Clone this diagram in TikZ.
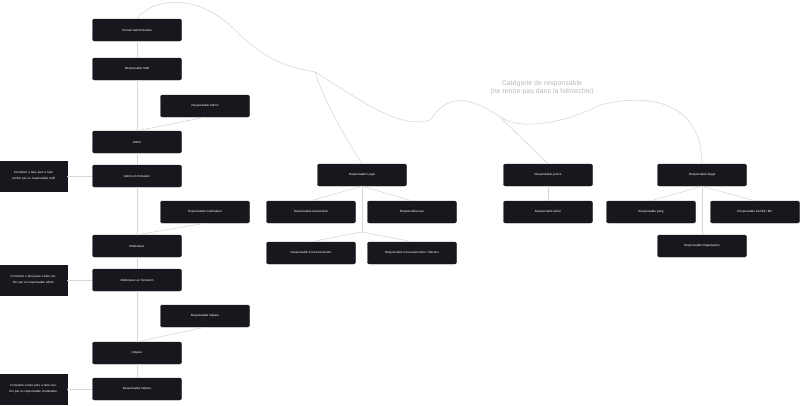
\documentclass[tikz,border=0pt]{standalone}
\usepackage{fontspec}
\setmainfont{Liberation Sans}
\begin{document}
\begin{tikzpicture}[x=1pt,y=-1pt,
  box/.style={fill={rgb,255:red,26;green,22;blue,29},draw={rgb,255:red,26;green,22;blue,29},rounded corners=2pt,minimum width=89pt,minimum height=22pt,text=white,font=\fontsize{3}{4}\selectfont,inner sep=1pt},
  fbox/.style={box,rounded corners=0pt,minimum width=67pt,minimum height=30pt,text width=62pt,align=center,font=\fontsize{3}{6}\selectfont},
  ln/.style={draw={rgb,255:red,215;green,215;blue,215},line width=0.6pt}]
\useasboundingbox (0,0) rectangle (800,405);
\node[box] (ca) at (137,30) {Conseil Administration};
\node[box] (rs) at (137,69) {Responsable Staff};
\node[box] (ra) at (205,106) {Responsable Admin};
\node[box] (ad) at (137,142) {Admin};
\node[box] (af) at (137,176) {Admin en formation};
\node[fbox] (f1) at (33.5,176) {Formation a faire pars a faire verifier par un responsable staff};
\node[box] (rm) at (205,212) {Responsable modérateur};
\node[box] (mo) at (137,246) {Modérateur};
\node[box] (mf) at (137,280) {Modérateur en formation};
\node[fbox] (f2) at (33.5,280) {Formation a faire pars a faire verifier par un responsable admin};
\node[box] (rh) at (205,316) {Responsable helpeur};
\node[box] (he) at (137,353) {Helpeur};
\node[box] (rh2) at (137,389) {Responsable helpeur};
\node[fbox] (f3) at (33.5,389) {Formation a faire pars a faire verifier par un responsable modérateur};
\node[box] (rl) at (362,175) {Responsable Legal};
\node[box] (rr) at (311,212) {Responsable restauration};
\node[box] (rt) at (412,212) {Responsable taxe};
\node[box] (rc) at (311,253) {Responsable Concessionnaire};
\node[box] (rcm) at (412,253) {Responsable Concessionnaire / Mécano};
\node[box] (rj) at (548,175) {Responsable justice};
\node[box] (rp) at (548,212) {Responsable police};
\node[box] (ri) at (702,175) {Responsable Illegal};
\node[box] (rg) at (651,212) {Responsable gang};
\node[box] (rfm) at (755,212) {Responsable Famille / MC};
\node[box] (ro) at (702,246) {Responsable Organisation};
\node[text={rgb,255:red,185;green,185;blue,185},font=\fontsize{7}{8}\selectfont,align=center] (lab) at (542,88) {Catégorie de responsable\\(ne rentre pas dans la hiérarchie)};
\coordinate (j1) at (315,72);
\coordinate (j2) at (500,117);
\coordinate (lb) at (362,232);
\path[ln] (ca.north) .. controls (150,0) and (195,-10) .. (235,30) .. controls (270,65) and (295,68) .. (j1);
\path[ln] (j1) .. controls (320,90) and (340,130) .. (rl.north);
\path[ln] (j1) .. controls (360,100) and (400,130) .. (430,120) .. controls (445,100) and (460,90) .. (j2);
\path[ln] (j2) -- (rj.north);
\path[ln] (j2) .. controls (520,130) and (560,125) .. (600,105) .. controls (660,90) and (702,110) .. (ri.north);
\path[ln] (ca) -- (rs);
\path[ln] (rs) -- (ad);
\path[ln] (ra.south) -- (ad.north);
\path[ln] (ad) -- (af);
\path[ln] (af) -- (mo);
\path[ln] (rm.south) -- (mo.north);
\path[ln] (mo) -- (mf);
\path[ln] (mf) -- (he);
\path[ln] (rh.south) -- (he.north);
\path[ln] (he) -- (rh2);
\path[ln] (f1) -- (af);
\path[ln] (f2) -- (mf);
\path[ln] (f3) -- (rh2);
\path[ln] (rl.south) -- (rr.north);
\path[ln] (rl.south) -- (rt.north);
\path[ln] (rl.south) -- (lb);
\path[ln] (lb) -- (rc.north);
\path[ln] (lb) -- (rcm.north);
\path[ln] (rj) -- (rp);
\path[ln] (ri.south) -- (rg.north);
\path[ln] (ri.south) -- (rfm.north);
\path[ln] (ri) -- (ro);
\end{tikzpicture}
\end{document}
